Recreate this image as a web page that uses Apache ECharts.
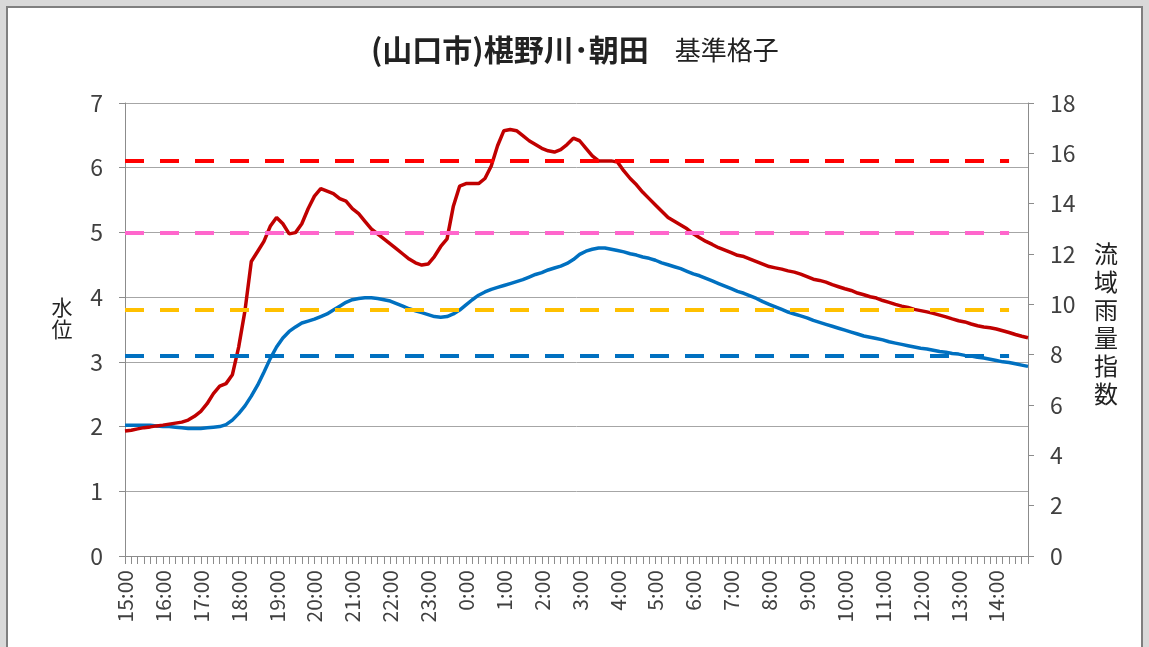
<!DOCTYPE html>
<html>
<head>
<meta charset="utf-8">
<script src="https://cdn.jsdelivr.net/npm/echarts@6/dist/echarts.min.js"></script>
<style>
  html, body { margin: 0; padding: 0; background: #d9d9d9; }
  #chart { width: 1149px; height: 647px; }
</style>
</head>
<body>
<div id="chart"></div>
<script>
// 10分毎 15:00 〜 14:50
const times = []
for (let h = 0; h < 24; h++) {
  for (let m = 0; m < 60; m += 10) {
    times.push(((15 + h) % 24) + ':' + (m < 10 ? '0' + m : m))
  }
}

// 水位 (左軸)
const waterLevel = [
  2.02, 2.02, 2.02, 2.02, 2.02, 2.01, 2.00, 2.00, 1.99, 1.98,
  1.97, 1.97, 1.97, 1.98, 1.99, 2.00, 2.03, 2.10, 2.20, 2.32,
  2.47, 2.64, 2.84, 3.05, 3.23, 3.37, 3.47, 3.54, 3.60, 3.63,
  3.66, 3.70, 3.74, 3.80, 3.86, 3.92, 3.96, 3.98, 3.99, 3.99,
  3.98, 3.96, 3.94, 3.90, 3.86, 3.82, 3.79, 3.76, 3.73, 3.70,
  3.69, 3.70, 3.74, 3.80, 3.88, 3.96, 4.03, 4.08, 4.12, 4.15,
  4.18, 4.21, 4.24, 4.27, 4.31, 4.35, 4.38, 4.42, 4.45, 4.48,
  4.52, 4.58, 4.66, 4.71, 4.74, 4.76, 4.76, 4.74, 4.72, 4.70,
  4.67, 4.65, 4.62, 4.60, 4.57, 4.53, 4.50, 4.47, 4.44, 4.40,
  4.36, 4.33, 4.29, 4.25, 4.21, 4.17, 4.13, 4.09, 4.06, 4.02,
  3.98, 3.93, 3.89, 3.85, 3.81, 3.77, 3.74, 3.71, 3.68, 3.64,
  3.61, 3.58, 3.55, 3.52, 3.49, 3.46, 3.43, 3.40, 3.38, 3.36,
  3.34, 3.31, 3.29, 3.27, 3.25, 3.23, 3.21, 3.20, 3.18, 3.16,
  3.15, 3.13, 3.12, 3.10, 3.09, 3.07, 3.06, 3.04, 3.02, 3.00,
  2.99, 2.97, 2.95, 2.93
]

// 流域雨量指数 (右軸)
const rainIndex = [
  4.97, 5.00, 5.05, 5.10, 5.13, 5.17, 5.20, 5.24, 5.28, 5.32,
  5.40, 5.55, 5.75, 6.05, 6.45, 6.75, 6.85, 7.20, 8.30, 9.75,
  11.7, 12.1, 12.5, 13.1, 13.45, 13.2, 12.8, 12.85, 13.2, 13.8,
  14.3, 14.6, 14.5, 14.4, 14.2, 14.1, 13.8, 13.6, 13.3, 13.0,
  12.8, 12.6, 12.4, 12.2, 12.0, 11.8, 11.65, 11.56, 11.6, 11.9,
  12.3, 12.6, 13.9, 14.7, 14.8, 14.8, 14.8, 15.0, 15.5, 16.3,
  16.9, 16.95, 16.9, 16.7, 16.5, 16.35, 16.2, 16.1, 16.05, 16.15,
  16.35, 16.6, 16.5, 16.2, 15.9, 15.7, 15.7, 15.7, 15.65, 15.3,
  15.0, 14.75, 14.45, 14.2, 13.95, 13.7, 13.45, 13.3, 13.15, 13.0,
  12.8, 12.65, 12.5, 12.38, 12.25, 12.15, 12.05, 11.95, 11.9, 11.8,
  11.7, 11.6, 11.5, 11.45, 11.4, 11.33, 11.28, 11.2, 11.1, 11.0,
  10.95, 10.88, 10.78, 10.7, 10.62, 10.55, 10.45, 10.38, 10.3, 10.25,
  10.15, 10.08, 10.0, 9.93, 9.88, 9.8, 9.75, 9.7, 9.64, 9.57,
  9.5, 9.42, 9.35, 9.3, 9.22, 9.15, 9.1, 9.07, 9.02, 8.95,
  8.88, 8.8, 8.73, 8.67
]

// 基準水位 (破線)
const thresholdValues = [6.1, 5.0, 3.8, 3.1]
const thresholdColors = ['#ff0000', '#ff66cc', '#ffc000', '#0070c0']
const thresholdEnd = 140

const leftTicks = { min: 0, max: 7, interval: 1 }
const rightTicks = { min: 0, max: 18, interval: 2 }

const font = '"Noto Sans CJK JP", "Noto Sans", sans-serif'
const textColor = '#404040'
const axisGray = '#8c8c8c'

const myChart = echarts.init(document.getElementById('chart'))

myChart.setOption({
  backgroundColor: '#d9d9d9',
  animation: false,
  textStyle: { fontFamily: font },
  graphic: [
    {
      type: 'rect',
      z: -10,
      shape: { x: 7, y: 7, width: 1135, height: 660 },
      style: { fill: '#ffffff', stroke: '#7f7f7f', lineWidth: 2 }
    },
    {
      type: 'text',
      x: 62, y: 318,
      style: {
        text: '水\n位',
        font: '21px ' + font,
        lineHeight: 22,
        fill: '#222',
        textAlign: 'center',
        textVerticalAlign: 'middle'
      }
    },
    {
      type: 'text',
      x: 1106, y: 324,
      style: {
        text: '流\n域\n雨\n量\n指\n数',
        font: '24px ' + font,
        lineHeight: 28,
        fill: '#222',
        textAlign: 'center',
        textVerticalAlign: 'middle'
      }
    }
  ],
  title: {
    text: '{a|(山口市)椹野川･朝田}{s| }{b|基準格子}',
    left: 366,
    top: 30,
    textStyle: {
      rich: {
        a: { fontSize: 30, fontWeight: 'bold', color: '#222', fontFamily: font },
        s: { fontSize: 20, width: 26 },
        b: { fontSize: 26, fontWeight: 'normal', color: '#222', fontFamily: font }
      }
    }
  },
  grid: { left: 125, right: 121, top: 103, bottom: 91 },
  xAxis: {
    type: 'category',
    data: times,
    boundaryGap: false,
    axisLine: { lineStyle: { color: axisGray, width: 1 } },
    axisTick: { interval: 0, length: 8, lineStyle: { color: axisGray } },
    axisLabel: {
      interval: 5,
      rotate: 90,
      margin: 14,
      fontSize: 21,
      color: textColor,
      fontFamily: font
    },
    splitLine: { show: false }
  },
  yAxis: [
    {
      type: 'value',
      min: leftTicks.min,
      max: leftTicks.max,
      interval: leftTicks.interval,
      axisLine: { show: true, lineStyle: { color: axisGray } },
      axisTick: { show: true, length: 6, lineStyle: { color: axisGray } },
      axisLabel: { fontSize: 23, color: textColor, margin: 22, fontFamily: font },
      splitLine: { show: true, lineStyle: { color: '#a6a6a6', width: 1 } }
    },
    {
      type: 'value',
      min: rightTicks.min,
      max: rightTicks.max,
      interval: rightTicks.interval,
      axisLine: { show: true, lineStyle: { color: axisGray } },
      axisTick: { show: true, length: 6, lineStyle: { color: axisGray } },
      axisLabel: { fontSize: 23, color: textColor, margin: 22, fontFamily: font },
      splitLine: { show: false }
    }
  ],
  series: [
    {
      name: '基準',
      type: 'line',
      yAxisIndex: 0,
      data: [],
      silent: true,
      markLine: {
        silent: true,
        symbol: ['none', 'none'],
        label: { show: false },
        lineStyle: { width: 4, type: [19, 16] },
        data: thresholdValues.map((v, i) => [
          { coord: [0, v], lineStyle: { color: thresholdColors[i], width: 4, type: [19, 16] } },
          { coord: [thresholdEnd, v] }
        ])
      }
    },
    {
      name: '水位',
      type: 'line',
      yAxisIndex: 0,
      data: waterLevel,
      showSymbol: false,
      lineStyle: { color: '#0070c0', width: 3.5 },
      itemStyle: { color: '#0070c0' }
    },
    {
      name: '流域雨量指数',
      type: 'line',
      yAxisIndex: 1,
      data: rainIndex,
      showSymbol: false,
      lineStyle: { color: '#c00000', width: 3.5 },
      itemStyle: { color: '#c00000' }
    }
  ]
})
</script>
</body>
</html>
